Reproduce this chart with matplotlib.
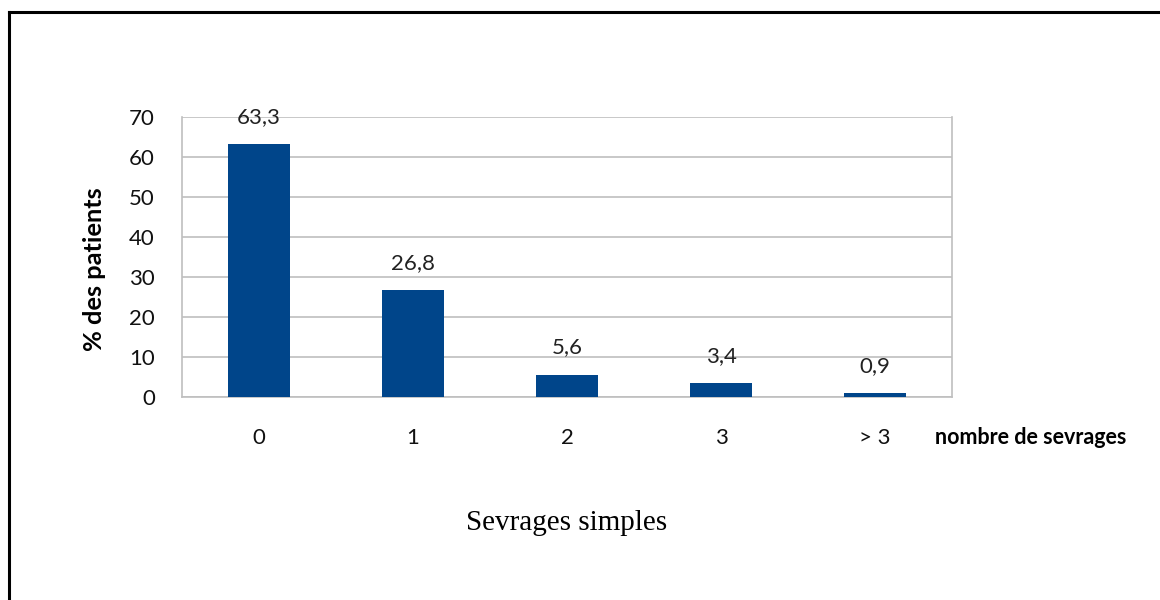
import matplotlib.pyplot as plt
from matplotlib.lines import Line2D

# data
categories = ['0', '1', '2', '3', '> 3']
percent = [63.3, 26.8, 5.6, 3.4, 0.9]
value_labels = ['63,3', '26,8', '5,6', '3,4', '0,9']
y_ticks = [0, 10, 20, 30, 40, 50, 60, 70]

fig = plt.figure(figsize=(11.6, 6), dpi=100)
ax = fig.add_axes([182 / 1160, 1 - 397 / 600, 770 / 1160, 280 / 600])

x = range(len(categories))
ax.bar(x, percent, width=0.4, color='#00458A', zorder=3)

# labels over bars
for xi, val, lab in zip(x, percent, value_labels):
    ax.text(xi, val + 6.8, lab, ha='center', va='center',
            fontsize=16, family='Lato', color='#222222')

ax.set_xlim(-0.5, len(categories) - 0.5)
ax.set_ylim(0, 70)
ax.set_yticks(y_ticks)
ax.set_xticks(list(x))
ax.set_xticklabels(categories)
ax.tick_params(axis='both', length=0, labelsize=16, colors='#111111')
ax.tick_params(axis='y', pad=19.5)
ax.tick_params(axis='x', pad=22)
for lab in ax.get_xticklabels() + ax.get_yticklabels():
    lab.set_family('Lato')

ax.grid(axis='y', color='#BFBFBF', linewidth=1.2, zorder=0)
for side in ['left', 'right', 'bottom']:
    ax.spines[side].set_color('#BFBFBF')
    ax.spines[side].set_linewidth(1.2)
ax.spines['top'].set_visible(False)

# axis titles
fig.text(95 / 1160, 1 - 269 / 600, '% des patients', fontsize=18.3, fontweight='bold',
         family='Lato', rotation=90, ha='center', va='center')
fig.text(935 / 1160, 1 - 437 / 600, 'nombre de sevrages', fontsize=15.5,
         fontweight='bold', family='Lato', ha='left', va='center')
fig.text(567 / 1160, 1 - 523 / 600, 'Sevrages simples', fontsize=21,
         family='Liberation Serif', ha='center', va='center')

# outer frame: top and left only
fig.add_artist(Line2D([8.5 / 1160, 1], [1 - 12 / 600, 1 - 12 / 600], color='black', linewidth=2.2))
fig.add_artist(Line2D([8.5 / 1160, 8.5 / 1160], [0, 1 - 12 / 600], color='black', linewidth=2.2))

fig.savefig('out.png', dpi=100)
